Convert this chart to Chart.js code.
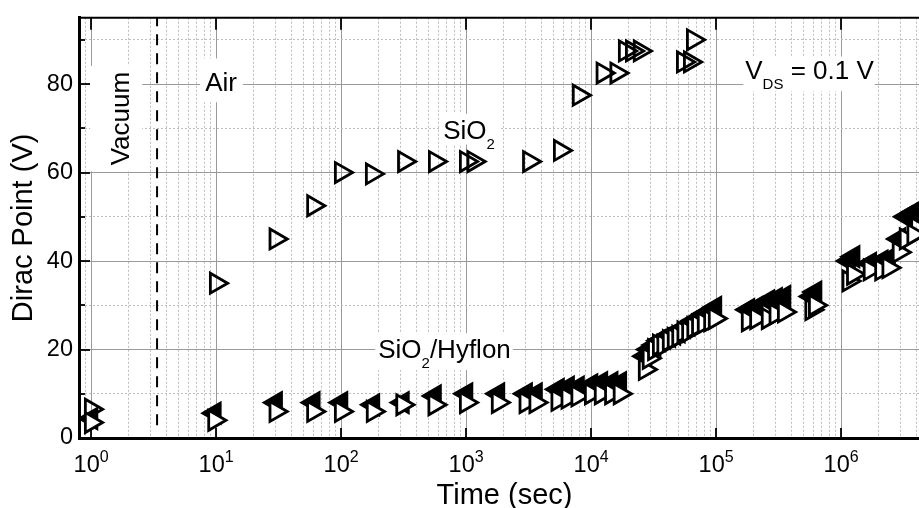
<!DOCTYPE html>
<html>
<head>
<meta charset="utf-8">
<script src="https://cdn.jsdelivr.net/npm/chart.js@4.4.1/dist/chart.umd.min.js"></script>
<style>
  html, body { margin: 0; padding: 0; background: #fff; overflow: hidden; }
  #wrap { width: 919px; height: 508px; overflow: hidden; }
</style>
</head>
<body>
<div id="wrap"><canvas id="chart-dirac" width="932" height="508"></canvas></div>
<script>
const fontFamily = "'Liberation Sans', Arial, Helvetica, sans-serif";

// SiO2 device (right-pointing open triangles)
const sio2Time = [1, 10, 30, 60, 100, 177, 320, 565, 1000, 1150, 3200, 5650, 8000, 12400, 16000, 18700, 21300, 24600, 54500, 62000, 65500];
const sio2Dirac = [6.5, 35, 45, 52.5, 60, 59.7, 62.5, 62.5, 62.5, 62.5, 62.5, 65, 77.5, 82.5, 82.5, 87.5, 87.5, 87.5, 85, 85, 90];

// SiO2/Hyflon devices
const hyflonTime = [1, 9.7, 30, 60, 100, 180, 310, 560, 1000, 1800,
  3000, 3600, 5400, 6500, 7800, 10000, 12000, 14500, 17000,
  27000, 29000, 32000, 35000, 38000, 42000, 46000, 50000, 55000, 60000,
  66000, 72000, 80000, 90000, 98000,
  180000, 210000, 260000, 300000, 350000, 580000, 620000,
  1150000, 1250000, 1700000, 2100000, 2400000, 2900000, 3300000, 3800000];
// left-pointing triangles
const hyflonDiracA = [4.4, 5.6, 8, 8, 8, 7.5, 8, 9.5, 10, 10,
  10, 10, 11, 11.5, 11.5, 12, 12.5, 12.5, 12.5,
  18.5, 20, 21, 22, 22.5, 23, 23.5, 24, 25, 25.5,
  26.5, 27, 28, 28.5, 29.5,
  29, 29.5, 31, 31.5, 32, 32, 33,
  40, 41, 39.5, 40, 40.5, 45, 50, 51];
// right-pointing triangles
const hyflonDiracB = [3.5, 4, 6, 6, 6, 6, 7.5, 7.5, 8, 8,
  8, 8, 8.5, 9, 9.5, 10, 10, 10, 10,
  15.5, 18, 20, 21, 21, 22, 22.5, 23, 24, 24,
  25, 25.5, 26, 26.5, 27,
  26.5, 27, 27, 28, 28.5, 29, 30,
  35.5, 37, 38, 38, 38.5, 42, 45, 46];

// vacuum -> air
const airExposureTime = 3.37;
const vacuumLineY = [2.9, 95];

const xDecades = [0, 1, 2, 3, 4, 5, 6];
const yMajorTicks = [0, 20, 40, 60, 80];
const yMinorTicks = [10, 30, 50, 70, 90];

// text notes: parts = [text, isSubscript]
const notes = [
  { parts: [['Vacuum', false]], x: 1.77, y: 72.2, rotate: true, box: { l: 32, r: 20 } },
  { parts: [['Air', false]], x: 8.17, y: 78.4, box: { l: 5, r: 6, t: 14, b: 11 } },
  { parts: [['SiO', false], ['2', true]], x: 655, y: 67.7, box: { l: 4, r: 4, t: 6, b: 6 } },
  { parts: [['SiO', false], ['2', true], ['/Hyflon', false]], x: 198, y: 18.1, box: { l: 3, r: 2, t: 6, b: 12 } },
  { parts: [['V', false], ['DS', true], [' = 0.1 V', false]], x: 171000, y: 81.1, box: { l: 2, r: 1, t: 4, b: 12 } }
];

function toPoints(times, values) {
  return times.map((t, i) => ({ x: t, y: values[i] }));
}

function isDecade(v) {
  const l = Math.log10(v);
  return Math.abs(l - Math.round(l)) < 1e-9;
}

const majorGrid = '#9a9a9a';
const minorGrid = '#bdbdbd';

function drawNote(ctx, note, xs, ys) {
  const px = xs.getPixelForValue(note.x);
  const py = ys.getPixelForValue(note.y);
  const big = '26px ' + fontFamily;
  const small = '15px ' + fontFamily;
  ctx.save();
  if (note.rotate) {
    ctx.font = big;
    const w = ctx.measureText(note.parts[0][0]).width;
    ctx.fillStyle = '#fff';
    ctx.fillRect(px - note.box.l, py - w / 2 - 6, note.box.l + note.box.r, w + 12);
    ctx.translate(px, py);
    ctx.rotate(-Math.PI / 2);
    ctx.fillStyle = '#000';
    ctx.textAlign = 'center';
    ctx.textBaseline = 'middle';
    ctx.fillText(note.parts[0][0], 0, 0);
    ctx.restore();
    return;
  }
  let total = 0;
  const widths = note.parts.map(p => {
    ctx.font = p[1] ? small : big;
    const w = ctx.measureText(p[0]).width;
    total += w;
    return w;
  });
  const top = py - 26 * 0.72;
  ctx.fillStyle = '#fff';
  ctx.fillRect(px - note.box.l, top - note.box.t, total + note.box.l + note.box.r, py - top + note.box.t + note.box.b);
  ctx.fillStyle = '#000';
  ctx.textAlign = 'left';
  ctx.textBaseline = 'alphabetic';
  let cx = px;
  note.parts.forEach((p, i) => {
    ctx.font = p[1] ? small : big;
    ctx.fillText(p[0], cx, p[1] ? py + 10 : py);
    cx += widths[i];
  });
  ctx.restore();
}

const decorPlugin = {
  id: 'decor',
  beforeDatasetsDraw(chart) {
    const { ctx, scales: { x, y } } = chart;
    notes.forEach(n => drawNote(ctx, n, x, y));
  },
  afterDraw(chart) {
    const { ctx, chartArea: a, scales: { x, y } } = chart;
    const line = (x1, y1, x2, y2) => {
      ctx.beginPath(); ctx.moveTo(x1, y1); ctx.lineTo(x2, y2); ctx.stroke();
    };
    ctx.save();
    ctx.strokeStyle = '#000';
    ctx.lineWidth = 2;
    line(a.left, a.top, a.right, a.top);
    line(a.right, a.top, a.right, a.bottom);

    ctx.lineWidth = 1.8;
    xDecades.forEach(k => {
      const px = Math.round(x.getPixelForValue(Math.pow(10, k)));
      line(px, a.top, px, a.top + 12);
      line(px, a.bottom, px, a.bottom - 10);
    });
    yMajorTicks.forEach(v => {
      const py = Math.round(y.getPixelForValue(v));
      line(a.left, py, a.left + 11, py);
      line(a.right, py, a.right - 11, py);
    });
    yMinorTicks.forEach(v => {
      const py = Math.round(y.getPixelForValue(v));
      line(a.left, py, a.left + 6, py);
      line(a.right, py, a.right - 6, py);
    });

    // decade tick labels
    ctx.fillStyle = '#000';
    ctx.textBaseline = 'alphabetic';
    ctx.textAlign = 'left';
    const big = '23.5px ' + fontFamily;
    const small = '16px ' + fontFamily;
    xDecades.forEach(k => {
      const px = x.getPixelForValue(Math.pow(10, k));
      ctx.font = big;
      const w1 = ctx.measureText('10').width;
      ctx.font = small;
      const w2 = ctx.measureText(String(k)).width;
      const start = px - (w1 + w2) / 2;
      ctx.font = big;
      ctx.fillText('10', start, a.bottom + 34);
      ctx.font = small;
      ctx.fillText(String(k), start + w1, a.bottom + 24);
    });
    ctx.restore();
  }
};

const triangle = { pointStyle: 'triangle', pointRadius: 11.5, pointHoverRadius: 11.5, pointBorderWidth: 2.8, pointBorderColor: '#000', showLine: false };

new Chart(document.getElementById('chart-dirac'), {
  type: 'scatter',
  data: {
    datasets: [
      Object.assign({ label: 'SiO2/Hyflon B', data: toPoints(hyflonTime, hyflonDiracB), pointRotation: 90, pointBackgroundColor: '#fff' }, triangle),
      Object.assign({ label: 'SiO2/Hyflon A', data: toPoints(hyflonTime, hyflonDiracA), pointRotation: -90, pointBackgroundColor: '#000' }, triangle),
      Object.assign({ label: 'SiO2', data: toPoints(sio2Time, sio2Dirac), pointRotation: 90, pointBackgroundColor: 'rgba(0,0,0,0)' }, triangle),
      {
        label: 'vacuum/air',
        data: vacuumLineY.map(v => ({ x: airExposureTime, y: v })),
        showLine: true,
        borderColor: '#000',
        borderWidth: 2,
        borderDash: [11, 8],
        pointRadius: 0
      }
    ]
  },
  options: {
    responsive: false,
    animation: false,
    events: [],
    // the plot box runs a little past the right edge of the picture
    layout: { autoPadding: false, padding: { top: 13, right: 2, left: 0, bottom: 0 } },
    plugins: { legend: { display: false }, tooltip: { enabled: false } },
    scales: {
      x: {
        type: 'logarithmic',
        min: 0.8,
        max: 5.14e6,
        afterBuildTicks: (scale) => {
          const ticks = [];
          for (let k = -1; k <= 6; k++) {
            for (let m = 1; m <= 9; m++) {
              const v = m * Math.pow(10, k);
              if (v >= scale.min && v <= scale.max) ticks.push({ value: v });
            }
          }
          scale.ticks = ticks;
        },
        afterFit: (scale) => { scale.height = 70; },
        ticks: { display: false },
        grid: {
          drawTicks: false,
          lineWidth: 1,
          color: (c) => (c.tick && isDecade(c.tick.value)) ? majorGrid : minorGrid
        },
        border: {
          color: '#000',
          width: 3,
          dash: (c) => (c.tick && !isDecade(c.tick.value)) ? [2, 2] : []
        },
        title: {
          display: true,
          text: 'Time (sec)',
          color: '#000',
          font: { family: fontFamily, size: 29, lineHeight: 0.8 },
          padding: { top: 0, bottom: 0 }
        }
      },
      y: {
        min: 0,
        max: 95,
        afterBuildTicks: (scale) => {
          scale.ticks = yMajorTicks.concat(yMinorTicks).sort((p, q) => p - q).map(v => ({ value: v }));
        },
        afterFit: (scale) => { scale.width = 79; },
        ticks: {
          autoSkip: false,
          padding: 6,
          color: '#000',
          font: { family: fontFamily, size: 23.5, lineHeight: 1 },
          callback: (v) => (v % 20 === 0 ? String(v) : '')
        },
        grid: {
          drawTicks: false,
          lineWidth: 1,
          color: (c) => (c.tick && c.tick.value % 20 === 0) ? majorGrid : minorGrid
        },
        border: {
          color: '#000',
          width: 3,
          dash: (c) => (c.tick && c.tick.value % 20 !== 0) ? [2, 2] : []
        },
        title: {
          display: true,
          text: 'Dirac Point (V)',
          color: '#000',
          font: { family: fontFamily, size: 29, lineHeight: 1 },
          padding: { top: 9.5, bottom: 0 }
        }
      }
    }
  },
  plugins: [decorPlugin]
});
</script>
</body>
</html>
